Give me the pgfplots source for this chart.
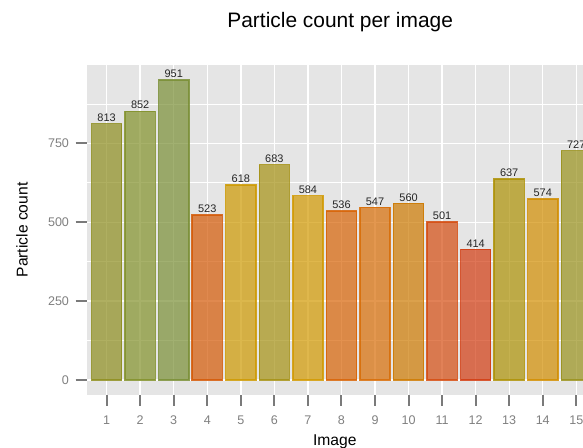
\documentclass[border=0pt]{standalone}
\usepackage{pgfplots}
\pgfplotsset{compat=1.18}
\usepackage{fontspec}
\setmainfont{Liberation Sans}

\definecolor{panelbg}{HTML}{E5E5E5}
\definecolor{tickgray}{HTML}{7A7A7A}
\definecolor{labgray}{HTML}{7F7F7F}
\definecolor{c1}{HTML}{8E8E1E}
\definecolor{c2}{HTML}{82912A}
\definecolor{c3}{HTML}{7A8F35}
\definecolor{c4}{HTML}{D45805}
\definecolor{c5}{HTML}{CD9900}
\definecolor{c6}{HTML}{A59113}
\definecolor{c7}{HTML}{D29900}
\definecolor{c8}{HTML}{D86305}
\definecolor{c9}{HTML}{D86C05}
\definecolor{c10}{HTML}{CD7A00}
\definecolor{c11}{HTML}{D54C10}
\definecolor{c12}{HTML}{D23B10}
\definecolor{c13}{HTML}{AD9105}
\definecolor{c14}{HTML}{D28E00}
\definecolor{c15}{HTML}{99911C}

\pgfplotsset{barc/.style={fill=#1, fill opacity=0.7, draw=#1, draw opacity=0.85, line width=1.4bp, bar shift=0pt}}

\begin{document}
\begin{tikzpicture}
\useasboundingbox (0,0) rectangle (583bp,448bp);
\begin{axis}[
  at={(86.5bp,53bp)}, anchor=south west,
  scale only axis, width=496.5bp, height=330bp,
  xmin=0.4, xmax=15.2, ymin=-47.55, ymax=998.55,
  axis background/.style={fill=panelbg},
  axis line style={draw=none},
  xtick={1,...,15}, ytick={0,250,500,750},
  minor ytick={125,375,625,875},
  xmajorgrids, ymajorgrids, yminorgrids,
  major grid style={white, line width=1.4bp},
  minor grid style={white, line width=0.7bp},
  tick align=outside, tick pos=left,
  major tick length=11bp, minor tick length=0pt,
  major tick style={tickgray, line width=2bp},
  /pgf/number format/assume math mode=true,
  xticklabels={1,2,3,4,5,6,7,8,9,10,11,12,13,14,15},
  yticklabels={0,250,500,750},
  xticklabel style={font=\fontsize{12.6}{14}\selectfont, text=labgray, yshift=-6bp},
  yticklabel style={font=\fontsize{12.6}{14}\selectfont, text=labgray, xshift=-3bp},
  xlabel={Image}, ylabel={Particle count},
  every axis x label/.style={at={(axis description cs:0.5,-0.143)}, anchor=center, font=\fontsize{15.7}{18}\selectfont, text=black},
  every axis y label/.style={at={(axis description cs:-0.130,0.5)}, anchor=center, rotate=90, font=\fontsize{15.7}{18}\selectfont, text=black},
  title={Particle count per image},
  title style={at={(axis description cs:0.511,1.112)}, anchor=center, font=\fontsize{21}{24}\selectfont},
  ybar, bar width=0.9,
  nodes near coords,
  every node near coord/.append style={font=\fontsize{11}{12}\selectfont, text=black!85, text opacity=1, anchor=south, inner sep=1.5bp},
]
\addplot[barc=c1] coordinates {(1,813)};
\addplot[barc=c2] coordinates {(2,852)};
\addplot[barc=c3] coordinates {(3,951)};
\addplot[barc=c4] coordinates {(4,523)};
\addplot[barc=c5] coordinates {(5,618)};
\addplot[barc=c6] coordinates {(6,683)};
\addplot[barc=c7] coordinates {(7,584)};
\addplot[barc=c8] coordinates {(8,536)};
\addplot[barc=c9] coordinates {(9,547)};
\addplot[barc=c10] coordinates {(10,560)};
\addplot[barc=c11] coordinates {(11,501)};
\addplot[barc=c12] coordinates {(12,414)};
\addplot[barc=c13] coordinates {(13,637)};
\addplot[barc=c14] coordinates {(14,574)};
\addplot[barc=c15] coordinates {(15,727)};
\end{axis}
\end{tikzpicture}
\end{document}
